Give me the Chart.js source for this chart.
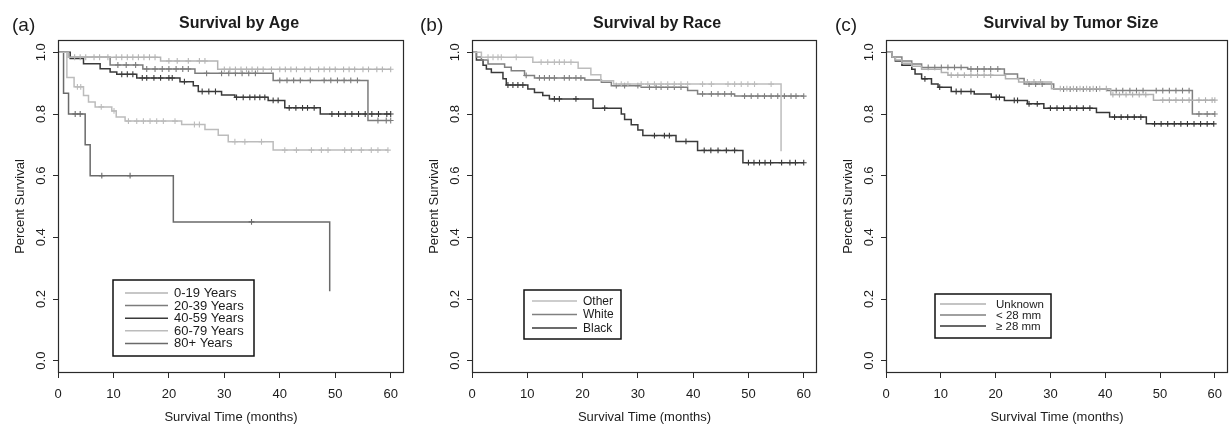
<!DOCTYPE html>
<html>
<head>
<meta charset="utf-8">
<script src="https://cdn.jsdelivr.net/npm/chart.js"></script>
<style>
  body { margin: 0; background: #fff; width: 1232px; height: 425px; overflow: hidden; position: relative; }
  canvas { position: absolute; top: 0; }
</style>
</head>
<body>
<canvas id="chartA" width="410" height="425" style="left:0"></canvas>
<canvas id="chartB" width="410" height="425" style="left:414px"></canvas>
<canvas id="chartC" width="404" height="425" style="left:828px"></canvas>
<script>
// axis ticks
var xTicks = [0, 10, 20, 30, 40, 50, 60];
var yTicks = [0, 0.2, 0.4, 0.6, 0.8, 1.0];

// (a) survival by age: event times, survival after each event, censor times
var ageNames = ["0-19 Years", "20-39 Years", "40-59 Years", "60-79 Years", "80+ Years"];
var ageColors = ["#b4b4b4", "#7c7c7c", "#3a3a3a", "#bcbcbc", "#6a6a6a"];
var age0T = [1.9, 18.5, 28.8];
var age0S = [0.984, 0.972, 0.945];
var age0C = [3, 4, 5, 6.5, 7.5, 9, 10.5, 11.5, 12.5, 13.5, 14.5, 15.5, 16.5, 17.5, 20, 21.5, 23.5, 25.5, 26.5, 30, 31, 32, 33, 34, 35, 36, 37, 38.5, 40, 41, 42, 43, 44.5, 45.5, 47, 48, 49, 50, 51.5, 52.5, 53.5, 55, 56, 57.5, 58.5, 60];
var age20T = [1.9, 9.4, 15.3, 24.7, 38.8, 55.9];
var age20S = [0.984, 0.959, 0.946, 0.932, 0.909, 0.779];
var age20C = [10.8, 12.3, 14, 16, 17.5, 18.8, 20, 21.3, 22.5, 23.5, 26.8, 29.5, 30.8, 32, 33.2, 34.4, 35.6, 40, 41.3, 42.5, 43.7, 45.5, 48, 49.2, 50.4, 51.6, 52.8, 54, 57.7, 59.2, 60];
var age40T = [2.2, 4.6, 7.6, 9.4, 10.6, 14.2, 22, 24.4, 25.3, 29.5, 31.9, 37.9, 40.9, 47.3];
var age40S = [0.98, 0.963, 0.947, 0.936, 0.929, 0.917, 0.905, 0.892, 0.873, 0.862, 0.854, 0.844, 0.82, 0.80];
var age40C = [11.5, 12.5, 13.5, 15.2, 16, 17.3, 18.5, 20, 20.6, 22.8, 26, 27.2, 28.4, 32.2, 33.4, 34.6, 35.5, 36.4, 37.3, 38.8, 39.7, 41.7, 42.9, 44.1, 45, 46.2, 49.4, 50.6, 51.8, 53, 54.2, 55.4, 56.6, 57.8, 59.3, 60];
var age60T = [1.6, 2.9, 4.6, 5.5, 6.7, 9.7, 10.5, 12.1, 22.3, 26.5, 28.9, 30.7, 38.8];
var age60S = [0.918, 0.888, 0.86, 0.839, 0.823, 0.81, 0.79, 0.777, 0.766, 0.75, 0.731, 0.71, 0.683];
var age60C = [3.5, 4.1, 7.8, 10.1, 12.7, 14.2, 15.4, 16.6, 17.8, 19, 21.1, 24.6, 25.5, 31.9, 33.7, 36.7, 40.9, 43, 45.7, 47.5, 48.7, 51.7, 52.9, 54.7, 56.5, 57.7, 59.5];
var age80T = [1.0, 1.9, 4.9, 5.8, 20.8, 49];
var age80S = [0.867, 0.8, 0.7, 0.6, 0.45, 0.225];
var age80C = [3.1, 4.0, 7.9, 13, 34.9];

// (b) survival by race
var raceNames = ["Other", "White", "Black"];
var raceColors = ["#bdbdbd", "#808080", "#3a3a3a"];
var otherT = [1.7, 11, 19.2, 21.5, 23.3, 25.6, 55.9];
var otherS = [0.984, 0.968, 0.948, 0.927, 0.908, 0.897, 0.679];
var otherC = [2.9, 3.8, 4.7, 5.3, 8, 12.5, 13.7, 14.9, 15.8, 16.7, 17.9, 27, 28.2, 30.6, 31.8, 33, 34.2, 35.4, 36.6, 37.8, 39, 41.7, 43.3, 46.3, 47.5, 48.7, 49.9, 51.1, 54.1];
var whiteT = [0.8, 1.7, 2.9, 5.9, 7.1, 9.5, 11.3, 20.4, 23.4, 25.2, 30.6, 39, 40.8, 47.5];
var whiteS = [0.985, 0.975, 0.962, 0.952, 0.94, 0.925, 0.917, 0.91, 0.903, 0.892, 0.887, 0.876, 0.865, 0.858];
var whiteC = [9.8, 12.2, 13.1, 14, 14.9, 16.7, 17.6, 18.8, 19.7, 26.1, 27.6, 30, 32.1, 33.3, 34.2, 35.4, 36.6, 37.8, 41.7, 43.3, 44.5, 45.7, 46.9, 49.3, 50.5, 51.7, 52.9, 54.1, 55.3, 56.5, 57.7, 58.6, 60];
var blackT = [0.8, 2, 2.6, 3.5, 5.6, 6.2, 10.1, 11.3, 12.8, 14, 21.9, 27, 27.6, 28.8, 30, 30.9, 36.9, 40.8, 49];
var blackS = [0.975, 0.958, 0.946, 0.935, 0.914, 0.894, 0.881, 0.87, 0.86, 0.849, 0.819, 0.80, 0.782, 0.765, 0.748, 0.73, 0.711, 0.682, 0.642];
var blackC = [6.5, 7.4, 8.3, 9.2, 14.9, 15.8, 18.8, 24, 33, 34.8, 35.7, 38.7, 42, 43.2, 44.5, 46, 47.5, 50, 51, 52, 53, 54, 56, 57.5, 58.5, 60];

// (c) survival by tumor size
var sizeNames = ["Unknown", "< 28 mm", "\u2265 28 mm"];
var sizeColors = ["#b0b0b0", "#808080", "#363636"];
var unkT = [1.1, 1.7, 2.9, 4.7, 6.5, 10.1, 11.3, 21.8, 24.2, 30.2, 41, 48.8];
var unkS = [0.985, 0.975, 0.965, 0.955, 0.945, 0.935, 0.926, 0.914, 0.904, 0.882, 0.863, 0.845];
var unkC = [11.9, 13.1, 14.3, 15.5, 16.7, 17.9, 19.1, 25.8, 27, 28.2, 31.8, 33, 34.2, 35.4, 36.6, 37.8, 39, 40.2, 41.4, 42.6, 43.8, 45, 46.2, 47.4, 50.5, 51.7, 52.9, 54.1, 55.3, 57.1, 58.3, 59.5, 60];
var ltT = [1.1, 2.9, 4.7, 6.5, 14.9, 21.6, 24, 25.2, 30.6, 40.3, 55.9];
var ltS = [0.985, 0.972, 0.962, 0.951, 0.946, 0.93, 0.915, 0.897, 0.881, 0.876, 0.80];
var ltC = [7.7, 8.9, 10.1, 11.3, 12.5, 13.7, 15.5, 16.7, 17.9, 19.1, 20.4, 26.1, 27.3, 28.5, 32.4, 33.6, 34.8, 36, 37.2, 38.4, 42, 43.2, 44.5, 45.7, 46.9, 49.3, 50.5, 51.7, 52.9, 54.1, 55.3, 57.1, 58.6, 60];
var geT = [1.1, 1.7, 2.9, 4.7, 5.3, 6.5, 8.3, 9.5, 11.9, 16.1, 19.2, 21.6, 25.8, 28.8, 38.4, 40.8, 47.5];
var geS = [0.985, 0.972, 0.958, 0.945, 0.93, 0.914, 0.897, 0.887, 0.873, 0.865, 0.854, 0.844, 0.833, 0.819, 0.805, 0.79, 0.768];
var geC = [7.1, 9.8, 12.8, 13.7, 15.5, 20.1, 20.7, 23.4, 24, 26.1, 27.6, 30, 31.2, 32.4, 33.6, 34.8, 36, 37.2, 41.7, 42.9, 44.1, 45.3, 46.5, 49, 50.2, 51.4, 52.6, 53.8, 55, 56.2, 57.4, 58.6, 59.8];

var family = "'Liberation Sans', Arial, Helvetica, sans-serif";
var ink = "#1c1c1c";

// step points plus censor crosses sitting on the curve
function kmPoints(times, surv, censor) {
  var pts = [{x: 0, y: 1, r: 0}];
  times.forEach(function (t, i) { pts.push({x: t, y: surv[i], r: 0}); });
  censor.forEach(function (c) {
    var s = 1;
    times.forEach(function (t, i) { if (t <= c) s = surv[i]; });
    pts.push({x: c, y: s, r: 2.9});
  });
  pts.sort(function (a, b) { return a.x - b.x || a.r - b.r; });
  return pts;
}

function decor(p) {
  return {
    id: "decor",
    afterDatasetsDraw: function (chart) {
      var ctx = chart.ctx, a = chart.chartArea, L = p.legend;
      ctx.save();
      ctx.strokeStyle = "#2a2a2a";
      ctx.lineWidth = 1.2;
      ctx.strokeRect(a.left + 0.5, a.top + 0.5, a.right - a.left - 1, a.bottom - a.top - 1);

      ctx.fillStyle = ink;
      ctx.textBaseline = "middle";
      ctx.textAlign = "left";
      ctx.font = "19px " + family;
      ctx.fillText(p.letter, p.letterX, 26);
      ctx.textAlign = "center";
      ctx.font = "bold 16px " + family;
      ctx.fillText(p.title, p.titleX, 24);

      // legend box like R's legend()
      ctx.lineWidth = 1.5;
      ctx.strokeStyle = "#111";
      ctx.strokeRect(L.x, L.y, L.w, L.h);
      ctx.textAlign = "left";
      ctx.font = L.font + "px " + family;
      chart.data.datasets.forEach(function (d, i) {
        var y = L.y + L.first + i * L.row;
        ctx.strokeStyle = d.borderColor;
        ctx.lineWidth = 1.5;
        ctx.beginPath();
        ctx.moveTo(L.x + L.line[0], y);
        ctx.lineTo(L.x + L.line[1], y);
        ctx.stroke();
        ctx.fillStyle = ink;
        ctx.fillText(d.label, L.x + L.text, y + 0.5);
      });
      ctx.restore();
    }
  };
}

function makeChart(p) {
  var datasets = p.series.map(function (s, i) {
    var pts = kmPoints(s[0], s[1], s[2]);
    return {
      label: p.names[i],
      data: pts,
      showLine: true,
      stepped: true,
      borderColor: p.colors[i],
      backgroundColor: p.colors[i],
      borderWidth: 1.5,
      pointStyle: "cross",
      pointRadius: pts.map(function (q) { return q.r; }),
      pointHoverRadius: pts.map(function (q) { return q.r; }),
      pointBorderColor: p.colors[i],
      pointBorderWidth: 1.1,
      fill: false
    };
  });

  new Chart(document.getElementById(p.id), {
    type: "scatter",
    data: {datasets: datasets},
    options: {
      responsive: false,
      animation: false,
      layout: {padding: {top: 40, right: p.padRight, bottom: 0, left: 0}},
      plugins: {legend: {display: false}, tooltip: {enabled: false}},
      scales: {
        x: {
          type: "linear",
          min: 0,
          max: 62.4,
          afterBuildTicks: function (s) { s.ticks = xTicks.map(function (v) { return {value: v}; }); },
          afterFit: function (s) { s.height = 52; },
          grid: {drawOnChartArea: false, drawTicks: true, tickLength: 5, color: "#2a2a2a"},
          border: {display: false},
          ticks: {color: ink, padding: 9, font: {family: family, size: 13}},
          title: {display: true, text: "Survival Time (months)", color: ink, padding: {top: 0, bottom: 0}, font: {family: family, size: 13}}
        },
        y: {
          type: "linear",
          min: -0.04,
          max: 1.04,
          afterBuildTicks: function (s) { s.ticks = yTicks.map(function (v) { return {value: v}; }); },
          afterFit: function (s) { s.width = 58; },
          grid: {drawOnChartArea: false, drawTicks: true, tickLength: 5, color: "#2a2a2a"},
          border: {display: false},
          ticks: {
            color: ink, padding: 3, minRotation: 90, maxRotation: 90, crossAlign: "center",
            font: {family: family, size: 13},
            callback: function (v) { return v.toFixed(1); }
          },
          title: {display: true, text: "Percent Survival", color: ink, padding: {top: 13, bottom: 0}, font: {family: family, size: 13}}
        }
      }
    },
    plugins: [decor(p)]
  });
}

makeChart({
  id: "chartA", letter: "(a)", title: "Survival by Age", letterX: 12, titleX: 239, padRight: 6,
  names: ageNames, colors: ageColors,
  series: [[age0T, age0S, age0C], [age20T, age20S, age20C], [age40T, age40S, age40C], [age60T, age60S, age60C], [age80T, age80S, age80C]],
  legend: {x: 113, y: 280, w: 141, h: 76, first: 13, row: 12.6, line: [12, 55], text: 61, font: 13}
});
makeChart({
  id: "chartB", letter: "(b)", title: "Survival by Race", letterX: 6, titleX: 243, padRight: 7,
  names: raceNames, colors: raceColors,
  series: [[otherT, otherS, otherC], [whiteT, whiteS, whiteC], [blackT, blackS, blackC]],
  legend: {x: 110, y: 290, w: 97, h: 49, first: 11, row: 13.5, line: [8, 53], text: 59, font: 12}
});
makeChart({
  id: "chartC", letter: "(c)", title: "Survival by Tumor Size", letterX: 7, titleX: 243, padRight: 2,
  names: sizeNames, colors: sizeColors,
  series: [[unkT, unkS, unkC], [ltT, ltS, ltC], [geT, geS, geC]],
  legend: {x: 107, y: 294, w: 116, h: 44, first: 10, row: 11, line: [5, 51], text: 61, font: 11.5}
});
</script>
</body>
</html>
